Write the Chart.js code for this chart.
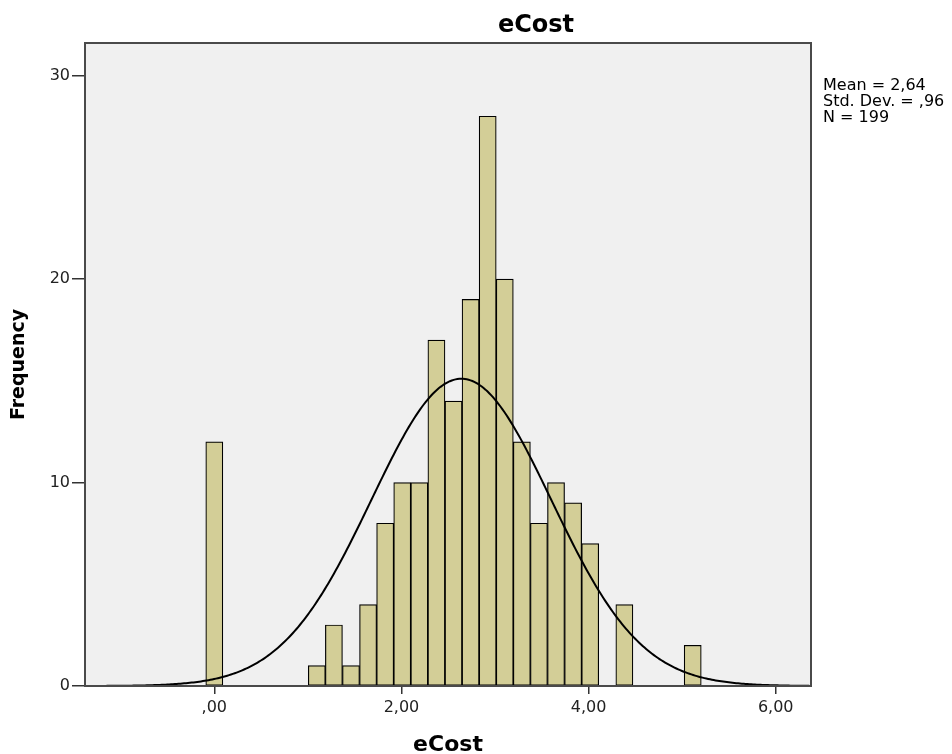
<!DOCTYPE html>
<html lang="en">
<head>
    <meta charset="UTF-8">
    <title>eCost</title>
    <script src="https://cdn.jsdelivr.net/npm/chart.js"></script>
    <style>
        body { margin: 0; background: #fff; }
        canvas { display: block; }
    </style>
</head>
<body>
    <canvas id="histChart" width="952" height="754"></canvas>

    <script>
        // histogram bins start at 0 and step by binWidth
        const binWidth = 0.1826;
        const binCounts = [12, 0, 0, 0, 0, 0, 1, 3, 1, 4, 8, 10, 10, 17, 14, 19, 28, 20, 12, 8, 10, 9, 7, 0, 4, 0, 0, 0, 2];
        const xTicks = [0, 2, 4, 6];
        const xTickLabels = [',00', '2,00', '4,00', '6,00'];
        const yTicks = [0, 10, 20, 30];
        const statLines = ['Mean = 2,64', 'Std. Dev. = ,96', 'N = 199'];
        const mean = 2.64;
        const stdDev = 0.96;
        const total = 199;
        const xMin = -1.382, xMax = 6.377, yMax = 31.6;

        const bars = binCounts.map((c, k) => ({ x: k * binWidth, y: c }));

        // normal curve from the stated mean / sd / N
        const curve = [];
        const peak = total * binWidth / (stdDev * Math.sqrt(2 * Math.PI));
        for (let x = xMin; x <= xMax + 1e-9; x += 0.02) {
            const z = (x - mean) / stdDev;
            curve.push({ x: x, y: peak * Math.exp(-0.5 * z * z) });
        }

        Chart.defaults.font.family = 'DejaVu Sans';
        Chart.defaults.color = '#222';

        const frame = {
            id: 'frame',
            beforeDraw(chart) {
                const { ctx, chartArea: a } = chart;
                ctx.save();
                ctx.fillStyle = '#f0f0f0';
                ctx.fillRect(a.left, a.top, a.right - a.left, a.bottom - a.top);
                ctx.restore();
            },
            afterDraw(chart) {
                const { ctx, chartArea: a } = chart;
                ctx.save();
                ctx.strokeStyle = '#4a4a4a';
                ctx.lineWidth = 2;
                ctx.strokeRect(a.left, a.top, a.right - a.left, a.bottom - a.top);

                ctx.fillStyle = '#000';
                ctx.font = 'bold 24px "DejaVu Sans"';
                ctx.textAlign = 'center';
                ctx.textBaseline = 'alphabetic';
                ctx.fillText('eCost', 536, 31.5);

                ctx.font = '16px "DejaVu Sans"';
                ctx.textAlign = 'left';
                statLines.forEach((t, i) => ctx.fillText(t, 823, 90 + i * 16));
                ctx.restore();
            }
        };

        new Chart(document.getElementById('histChart'), {
            type: 'bar',
            data: {
                datasets: [{
                    type: 'line',
                    data: curve,
                    borderColor: '#000',
                    borderWidth: 2,
                    pointRadius: 0,
                    fill: false,
                    order: 0
                }, {
                    type: 'bar',
                    data: bars,
                    backgroundColor: '#d3ce97',
                    borderColor: '#000',
                    borderWidth: 1.2,
                    borderSkipped: false,
                    barPercentage: 1,
                    categoryPercentage: 1,
                    order: 1
                }]
            },
            options: {
                responsive: false,
                animation: false,
                layout: { padding: { top: 43, right: 141, left: 0, bottom: 0 } },
                plugins: {
                    legend: { display: false },
                    tooltip: { enabled: false }
                },
                scales: {
                    x: {
                        type: 'linear',
                        min: xMin,
                        max: xMax,
                        offset: false,
                        afterBuildTicks: s => { s.ticks = xTicks.map(v => ({ value: v })); },
                        afterFit: s => { s.height = 68; },
                        grid: { offset: false, drawOnChartArea: false, drawTicks: true, tickLength: 8, color: '#333', lineWidth: 1.5 },
                        border: { display: false },
                        ticks: {
                            autoSkip: false,
                            maxRotation: 0,
                            padding: 4,
                            font: { size: 16 },
                            callback: (v, i) => xTickLabels[i]
                        },
                        title: {
                            display: true,
                            text: 'eCost',
                            color: '#000',
                            font: { size: 22, weight: 'bold', lineHeight: 0.8 },
                            padding: { top: 0, bottom: 0 }
                        }
                    },
                    y: {
                        min: 0,
                        max: yMax,
                        afterBuildTicks: s => { s.ticks = yTicks.map(v => ({ value: v })); },
                        afterFit: s => { s.width = 85; },
                        grid: { drawOnChartArea: false, drawTicks: true, tickLength: 13, color: '#333', lineWidth: 1.5 },
                        border: { display: false },
                        ticks: {
                            autoSkip: false,
                            padding: 2,
                            font: { size: 16 },
                            callback: v => String(v)
                        },
                        title: {
                            display: true,
                            text: 'Frequency',
                            color: '#000',
                            font: { size: 19, weight: 'bold' },
                            padding: { top: 7.5, bottom: 0 }
                        }
                    }
                }
            },
            plugins: [frame]
        });
    </script>
</body>
</html>
